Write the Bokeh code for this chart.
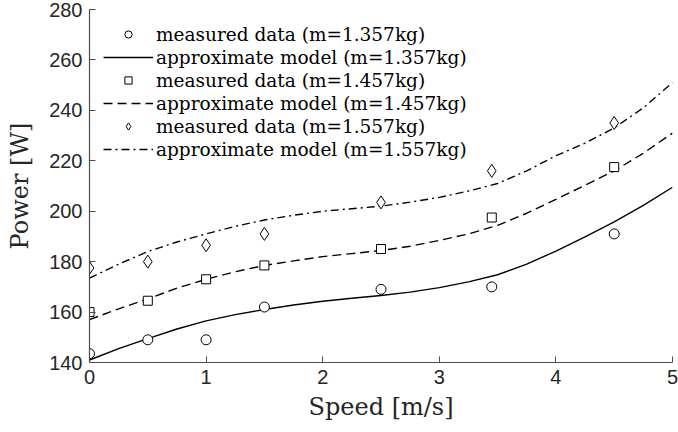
from bokeh.plotting import figure
from bokeh.models import Range1d, Legend, LegendItem, FixedTicker
from bokeh.embed import file_html
from bokeh.resources import INLINE

# measured data
speed = [0, 0.5, 1, 1.5, 2.5, 3.45, 4.5]
p_1357 = [143.5, 149, 149, 162, 169, 170, 191]
p_1457 = [160, 164.5, 173, 178.5, 185, 197.5, 217.5]
p_1557 = [177.5, 180, 186.5, 191, 203.5, 216, 235]

# approximate model curves
model_x = [0, 0.25, 0.5, 0.75, 1, 1.25, 1.5, 1.75, 2, 2.25, 2.5, 2.75, 3, 3.25, 3.5, 3.75, 4, 4.25, 4.5, 4.75, 5]
model_1357 = [141, 145.5, 149.5, 153.3, 156.5, 159, 161, 162.8, 164.3, 165.5, 166.6, 167.9, 169.7, 172, 174.8, 179, 184.2, 189.8, 195.8, 202.3, 209.5]
model_1457 = [157, 161.3, 165.2, 169.5, 173, 176, 178.5, 180.3, 182, 183.2, 184.4, 186.1, 188.4, 191, 194.4, 199.2, 204.7, 210.3, 216, 223, 231]
model_1557 = [173.5, 179, 184, 187.8, 191, 194, 196.5, 198.4, 200, 201, 202, 203.6, 205.5, 208, 211, 216, 222, 227, 233, 241, 251]

yticks = [140, 160, 180, 200, 220, 240, 260, 280]
xticks = [0, 1, 2, 3, 4, 5]

AX = "#4d4d4d"
SERIF = "DejaVu Serif"

p = figure(width=678, height=432, output_backend="svg", toolbar_location=None,
           x_range=Range1d(0, 5), y_range=Range1d(140, 280),
           min_border_left=89, min_border_right=6, min_border_top=9, min_border_bottom=70)
p.outline_line_color = None
p.grid.visible = False
p.background_fill_color = "white"

p.xaxis.ticker = FixedTicker(ticks=xticks)
p.yaxis.ticker = FixedTicker(ticks=yticks)
for ax in (p.xaxis[0], p.yaxis[0]):
    ax.axis_line_color = AX
    ax.axis_line_width = 1.2
    ax.major_tick_line_color = AX
    ax.major_tick_in = 6
    ax.major_tick_out = 0
    ax.minor_tick_line_color = None
    ax.major_label_text_font = "Liberation Sans"
    ax.major_label_text_font_size = "20px"
    ax.major_label_text_color = "#262626"
    ax.axis_label_text_font = SERIF
    ax.axis_label_text_font_style = "normal"
    ax.axis_label_text_font_size = "24px"
    ax.axis_label_text_color = "#262626"
p.xaxis.axis_label = "Speed [m/s]"
p.yaxis.axis_label = "Power [W]"
p.xaxis.major_label_standoff = 7
p.yaxis.major_label_standoff = 7
p.xaxis.axis_label_standoff = 6
p.yaxis.axis_label_standoff = 12

l1 = p.line(model_x, model_1357, line_color="black", line_width=1.4)
l2 = p.line(model_x, model_1457, line_color="black", line_width=1.4, line_dash="9 5")
l3 = p.line(model_x, model_1557, line_color="black", line_width=1.4, line_dash="8 4 2 4")
r1 = p.scatter(speed, p_1357, marker="circle", size=10, fill_color="white", line_color="black", line_width=1)
r2 = p.scatter(speed, p_1457, marker="square", size=9, fill_color="white", line_color="black", line_width=1)
r3 = p.scatter(speed, p_1557, marker="diamond", size=13, fill_color="white", line_color="black", line_width=1)

legend = Legend(items=[
    LegendItem(label="measured data (m=1.357kg)", renderers=[r1]),
    LegendItem(label="approximate model (m=1.357kg)", renderers=[l1]),
    LegendItem(label="measured data (m=1.457kg)", renderers=[r2]),
    LegendItem(label="approximate model (m=1.457kg)", renderers=[l2]),
    LegendItem(label="measured data (m=1.557kg)", renderers=[r3]),
    LegendItem(label="approximate model (m=1.557kg)", renderers=[l3]),
], location="top_left")
legend.background_fill_alpha = 0
legend.border_line_color = None
legend.label_text_font = SERIF
legend.label_text_font_size = "18.5px"
legend.label_text_color = "black"
legend.glyph_width = 50
legend.glyph_height = 18
legend.label_height = 22
legend.spacing = 1
legend.label_standoff = 3
legend.padding = 0
legend.margin = 14
p.add_layout(legend)

open("out.html", "w").write(file_html(p, INLINE))
